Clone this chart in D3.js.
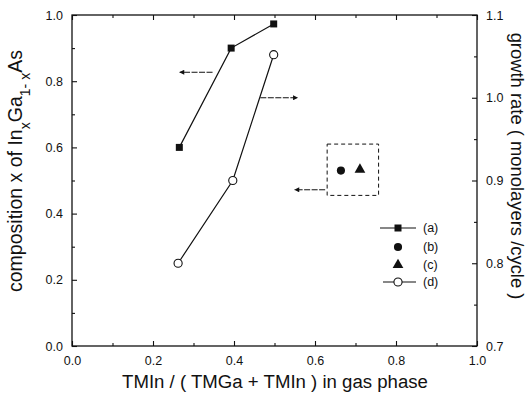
<!DOCTYPE html>
<html><head><meta charset="utf-8">
<script src="https://cdn.jsdelivr.net/npm/d3@7"></script>
<style>body{margin:0;background:#fff}svg{display:block}text{font-family:Arial,"Liberation Sans",sans-serif;fill:#111}</style>
</head><body><svg id="c" width="529" height="397"></svg>
<script>
// Data
const seriesA_x = [0.265, 0.393, 0.498];
const seriesA_y = [0.60, 0.90, 0.973];      // composition (left axis)
const seriesB = [{x: 0.664, y: 0.53}];       // left axis
const seriesC = [{x: 0.711, y: 0.53}];       // left axis
const seriesD_x = [0.262, 0.397, 0.498];
const seriesD_y = [0.80, 0.90, 1.052];       // growth rate (right axis)
const xTicks = [0.0, 0.2, 0.4, 0.6, 0.8, 1.0];
const yLeftTicks = [0.0, 0.2, 0.4, 0.6, 0.8, 1.0];
const yRightTicks = [0.7, 0.8, 0.9, 1.0, 1.1];
const legendLabels = ["(a)", "(b)", "(c)", "(d)"];

const svg = d3.select("#c");
const L = 72, R = 477, T = 15, B = 346;
const x = d3.scaleLinear().domain([0, 1]).range([L, R]);
const yL = d3.scaleLinear().domain([0, 1]).range([B, T]);
const yR = d3.scaleLinear().domain([0.7, 1.1]).range([B, T]);
const col = "#111";

// frame
svg.append("rect").attr("x", L).attr("y", T).attr("width", R - L).attr("height", B - T)
  .attr("fill", "none").attr("stroke", col).attr("stroke-width", 1.3);

const fmt = d3.format(".1f");
svg.append("g").attr("transform", `translate(0,${B})`)
  .call(d3.axisBottom(x).tickValues(xTicks).tickSize(-5).tickPadding(10).tickFormat(fmt));
svg.append("g").attr("transform", `translate(0,${B})`)
  .call(d3.axisBottom(x).tickValues(d3.range(0.1, 1, 0.2)).tickSize(-3).tickFormat(""));
svg.append("g").attr("transform", `translate(0,${T})`)
  .call(d3.axisTop(x).tickValues(xTicks).tickSize(-5).tickFormat(""));
svg.append("g").attr("transform", `translate(0,${T})`)
  .call(d3.axisTop(x).tickValues(d3.range(0.1, 1, 0.2)).tickSize(-3).tickFormat(""));
svg.append("g").attr("transform", `translate(${L},0)`)
  .call(d3.axisLeft(yL).tickValues(yLeftTicks).tickSize(-5).tickPadding(9).tickFormat(fmt));
svg.append("g").attr("transform", `translate(${L},0)`)
  .call(d3.axisLeft(yL).tickValues(d3.range(0.1, 1, 0.2)).tickSize(-3).tickFormat(""));
svg.append("g").attr("transform", `translate(${R},0)`)
  .call(d3.axisRight(yR).tickValues(yRightTicks).tickSize(-5).tickPadding(9).tickFormat(fmt));
svg.append("g").attr("transform", `translate(${R},0)`)
  .call(d3.axisRight(yR).tickValues([0.75, 0.85, 0.95, 1.05]).tickSize(-3).tickFormat(""));
svg.selectAll(".domain").remove();
svg.selectAll(".tick line").attr("stroke", col).attr("stroke-width", 1.1);
svg.selectAll(".tick text").attr("font-size", 12.5).attr("fill", col)
  .attr("font-family", "Arial, 'Liberation Sans', sans-serif");

// fit a title to a target length by scaling its font size
function fit(t, size, target) {
  t.attr("font-size", size);
  const w = t.node().getBBox().width;
  t.attr("font-size", size * target / w);
  t.selectAll("tspan.sub").attr("font-size", size * target / w * 0.72);
}

// axis titles
const bt = svg.append("text").attr("x", 275).attr("y", 388).attr("text-anchor", "middle")
  .text("TMIn / ( TMGa + TMIn ) in gas phase");
fit(bt, 17, 306);
const lt = svg.append("text").attr("transform", `translate(22,171) rotate(-90)`)
  .attr("text-anchor", "middle");
lt.append("tspan").text("composition  x  of In");
lt.append("tspan").attr("class", "sub").attr("baseline-shift", "sub").text("x");
lt.append("tspan").text("Ga");
lt.append("tspan").attr("class", "sub").attr("baseline-shift", "sub").text("1- x");
lt.append("tspan").text("As");
lt.attr("font-size", 16);
lt.selectAll("tspan.sub").attr("font-size", 11.5);
{
  const w = lt.node().getBBox().width;
  const s = 16 * 242 / w;
  lt.attr("font-size", s);
  lt.selectAll("tspan.sub").attr("font-size", s * 0.72);
}
const rt = svg.append("text").attr("transform", `translate(511,166) rotate(90)`)
  .attr("text-anchor", "middle").text("growth rate ( monolayers /cycle )");
fit(rt, 16, 267);

// series lines
const dataA = seriesA_x.map((v, i) => ({x: v, y: seriesA_y[i]}));
const dataD = seriesD_x.map((v, i) => ({x: v, y: seriesD_y[i]}));
svg.append("path").datum(dataA).attr("fill", "none").attr("stroke", col).attr("stroke-width", 1.2)
  .attr("d", d3.line().x(d => x(d.x)).y(d => yL(d.y)));
svg.append("path").datum(dataD).attr("fill", "none").attr("stroke", col).attr("stroke-width", 1.2)
  .attr("d", d3.line().x(d => x(d.x)).y(d => yR(d.y)));

const sq = d3.symbol().type(d3.symbolSquare).size(49);
const ci = d3.symbol().type(d3.symbolCircle).size(52);
const tr = d3.symbol().type(d3.symbolTriangle).size(50);
svg.selectAll(".pa").data(dataA).join("path").attr("d", sq)
  .attr("transform", d => `translate(${x(d.x)},${yL(d.y)})`).attr("fill", col);
svg.selectAll(".pd").data(dataD).join("path").attr("d", ci)
  .attr("transform", d => `translate(${x(d.x)},${yR(d.y)})`).attr("fill", "#fff").attr("stroke", col).attr("stroke-width", 1.1);
svg.selectAll(".pb").data(seriesB).join("path").attr("d", ci)
  .attr("transform", d => `translate(${x(d.x)},${yL(d.y)})`).attr("fill", col);
svg.selectAll(".pc").data(seriesC).join("path").attr("d", tr)
  .attr("transform", d => `translate(${x(d.x)},${yL(d.y) - 1})`).attr("fill", col);

// dashed box around b, c
svg.append("rect").attr("x", x(0.63)).attr("y", yL(0.61)).attr("width", x(0.757) - x(0.63))
  .attr("height", yL(0.455) - yL(0.61)).attr("fill", "none").attr("stroke", col)
  .attr("stroke-width", 1).attr("stroke-dasharray", "4,3");

// arrows
svg.append("defs").append("marker").attr("id", "ah").attr("viewBox", "0 0 10 10")
  .attr("refX", 9).attr("refY", 5).attr("markerWidth", 7).attr("markerHeight", 5)
  .attr("orient", "auto").append("path").attr("d", "M0,0L10,5L0,10Z").attr("fill", col);
function arrow(x1, y1, x2, y2, scale) {
  svg.append("line").attr("x1", x(x1)).attr("y1", scale(y1)).attr("x2", x(x2)).attr("y2", scale(y2))
    .attr("stroke", col).attr("stroke-width", 1).attr("stroke-dasharray", "6,1.5").attr("marker-end", "url(#ah)");
}
arrow(0.347, 0.827, 0.266, 0.827, yL);
arrow(0.465, 1.0, 0.557, 1.0, yR);
arrow(0.625, 0.472, 0.55, 0.472, yL);

// legend
const lg = svg.append("g");
const legY = [228, 247, 265, 282];
const lx = 398;
lg.append("line").attr("x1", lx - 18).attr("x2", lx + 18).attr("y1", legY[0]).attr("y2", legY[0]).attr("stroke", col).attr("stroke-width", 1.1);
lg.append("path").attr("d", sq).attr("transform", `translate(${lx},${legY[0]})`).attr("fill", col);
lg.append("path").attr("d", ci).attr("transform", `translate(${lx},${legY[1]})`).attr("fill", col);
lg.append("path").attr("d", tr).attr("transform", `translate(${lx},${legY[2]})`).attr("fill", col);
lg.append("line").attr("x1", lx - 15).attr("x2", lx + 18).attr("y1", legY[3]).attr("y2", legY[3]).attr("stroke", col).attr("stroke-width", 1.1);
lg.append("path").attr("d", ci).attr("transform", `translate(${lx},${legY[3]})`).attr("fill", "#fff").attr("stroke", col).attr("stroke-width", 1.1);
lg.selectAll("text.l").data(legendLabels).join("text").attr("x", 423).attr("y", (d, i) => legY[i] + 4)
  .attr("font-size", 12.5).text(d => d);
</script></body></html>
